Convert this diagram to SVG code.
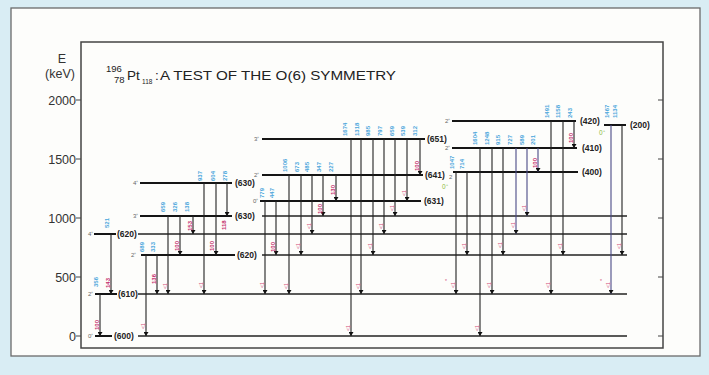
<svg xmlns="http://www.w3.org/2000/svg" width="709" height="375" viewBox="0 0 709 375">
<defs>
<marker id="ah" viewBox="0 0 8 10" refX="8" refY="5" markerWidth="6" markerHeight="5" orient="auto" markerUnits="userSpaceOnUse">
<path d="M0,0 L8,5 L0,10 z" fill="#111"/>
</marker>
<style>
.lvl{stroke:#151515;stroke-width:2;fill:none}
.ext{stroke:#222;stroke-width:1.3;fill:none}
.tr line{stroke:#222;stroke-width:1.1;marker-end:url(#ah)}
.tr line.p{stroke:#4a4a86}
.lb{font-family:"Liberation Sans",Arial,sans-serif;font-size:8.5px;font-weight:bold;fill:#222}
.sp{font-family:"Liberation Sans",Arial,sans-serif;font-size:6px;fill:#666}
.gr{font-family:"Liberation Sans",Arial,sans-serif;font-size:6.5px;fill:#8dbb3c}
.e{font-family:"Liberation Sans",Arial,sans-serif;font-size:6px;font-weight:bold;fill:#4aa6dc}
.b{font-family:"Liberation Sans",Arial,sans-serif;font-size:6px;font-weight:bold;fill:#c4306c}
.m{font-family:"Liberation Sans",Arial,sans-serif;font-size:5px;fill:#d04a78}
.ax{font-family:"Liberation Sans",Arial,sans-serif;font-size:12.5px;fill:#333}
.t{font-family:"Liberation Sans",Arial,sans-serif;fill:#222}
.tk{stroke:#444;stroke-width:1.2}
</style>
</defs>
<rect x="0" y="0" width="709" height="375" fill="#d9edf4"/>
<rect x="11" y="8" width="689" height="348" fill="#fdfdfb" stroke="#6a6a6a" stroke-width="1.3"/>
<rect x="81" y="42" width="582" height="306" fill="none" stroke="#444" stroke-width="1.5"/>

<g id="axis">
<text class="ax" x="62" y="63" text-anchor="middle">E</text>
<text class="ax" x="60" y="78" text-anchor="middle">(keV)</text>
<text class="ax" x="76" y="104.5" text-anchor="end">2000</text>
<text class="ax" x="76" y="163.5" text-anchor="end">1500</text>
<text class="ax" x="76" y="222.5" text-anchor="end">1000</text>
<text class="ax" x="76" y="281.5" text-anchor="end">500</text>
<text class="ax" x="76" y="340.5" text-anchor="end">0</text>
<path class="tk" d="M76,100H81M76,159H81M76,218H81M76,277H81M76,336H81M658,100H663M658,159H663M658,218H663M658,277H663M658,336H663"/>
</g>

<g id="title">
<text class="t" x="106" y="72" font-size="9.5">196</text>
<text class="t" x="114" y="83" font-size="9.5">78</text>
<text class="t" x="127" y="80" font-size="13.5">Pt</text>
<text class="t" x="142" y="84" font-size="6.5">118</text>
<text class="t" x="155" y="80" font-size="13.5">:</text>
<text class="t" x="160" y="80" font-size="13.5" textLength="236" lengthAdjust="spacingAndGlyphs">A TEST OF THE O(6) SYMMETRY</text>
</g>

<g id="lvl600">
<text class="sp" x="88" y="338">0⁺</text>
<path class="lvl" d="M95,336H112"/>
<text class="lb" x="114" y="339">(600)</text>
<path class="ext" d="M138,336H627"/>
</g>
<g id="lvl610">
<text class="sp" x="88" y="296">2⁺</text>
<path class="lvl" d="M95,294H117"/>
<text class="lb" x="118" y="297">(610)</text>
<path class="ext" d="M138,294H627"/>
</g>
<g id="lvl620-4">
<text class="sp" x="88" y="236">4⁺</text>
<path class="lvl" d="M94,234H116"/>
<text class="lb" x="117" y="237">(620)</text>
<path class="ext" d="M138,234H627"/>
</g>
<g id="lvl620-2">
<text class="sp" x="131" y="257">2⁺</text>
<path class="lvl" d="M141,255H235"/>
<text class="lb" x="237" y="258">(620)</text>
<path class="ext" d="M262,255H627"/>
</g>
<g id="lvl630-3">
<text class="sp" x="133" y="218">3⁺</text>
<path class="lvl" d="M140,216H232"/>
<text class="lb" x="235" y="219">(630)</text>
<path class="ext" d="M262,216H627"/>
</g>
<g id="lvl630-4">
<text class="sp" x="133" y="185">4⁺</text>
<path class="lvl" d="M140,183H232"/>
<text class="lb" x="235" y="186">(630)</text>
</g>
<g id="lvl631">
<text class="sp" x="253" y="203">0⁺</text>
<path class="lvl" d="M260,201H421"/>
<text class="lb" x="424" y="204">(631)</text>
</g>
<g id="lvl641">
<text class="sp" x="254" y="177">2⁺</text>
<path class="lvl" d="M262,175H423"/>
<text class="lb" x="425" y="178">(641)</text>
</g>
<g id="lvl651">
<text class="sp" x="254" y="141">3⁺</text>
<path class="lvl" d="M262,139H425"/>
<text class="lb" x="427" y="142">(651)</text>
</g>
<g id="lvl400">
<text class="sp" x="449" y="179">2</text>
<text class="gr" x="442" y="189">0⁺</text>
<path class="lvl" d="M453,172H578"/>
<text class="lb" x="582" y="175">(400)</text>
</g>
<g id="lvl410">
<text class="sp" x="445" y="150">2⁺</text>
<path class="lvl" d="M452,148H577"/>
<text class="lb" x="582" y="151">(410)</text>
</g>
<g id="lvl420">
<text class="sp" x="445" y="123">2⁺</text>
<path class="lvl" d="M452,121H576"/>
<text class="lb" x="580" y="124">(420)</text>
</g>
<g id="lvl200">
<text class="gr" x="599" y="135">0⁺</text>
<path class="lvl" d="M604,125H626"/>
<text class="lb" x="630" y="128">(200)</text>
</g>

<g id="connectors">
<g class="tr">
<line x1="100" y1="294" x2="100" y2="336"/>
<line x1="111" y1="234" x2="111" y2="294"/>
<line x1="146" y1="255" x2="146" y2="336"/>
<line x1="157" y1="255" x2="157" y2="294"/>
<line x1="168" y1="216" x2="168" y2="294"/>
<line x1="180" y1="216" x2="180" y2="255"/>
<line x1="193" y1="216" x2="193" y2="234"/>
<line x1="204" y1="183" x2="204" y2="294"/>
<line x1="216" y1="183" x2="216" y2="255"/>
<line x1="227" y1="183" x2="227" y2="216"/>
<line x1="265" y1="201" x2="265" y2="294"/>
<line x1="276" y1="201" x2="276" y2="255"/>
<line x1="289" y1="175" x2="289" y2="294"/>
<line x1="301" y1="175" x2="301" y2="255"/>
<line x1="312" y1="175" x2="312" y2="234"/>
<line x1="323" y1="175" x2="323" y2="216"/>
<line x1="336" y1="175" x2="336" y2="201"/>
<line x1="351" y1="139" x2="351" y2="336"/>
<line x1="361" y1="139" x2="361" y2="294"/>
<line x1="373" y1="139" x2="373" y2="255"/>
<line x1="384" y1="139" x2="384" y2="234"/>
<line x1="395" y1="139" x2="395" y2="216"/>
<line x1="407" y1="139" x2="407" y2="201"/>
<line x1="420" y1="139" x2="420" y2="175"/>
<line x1="456" y1="172" x2="456" y2="294"/>
<line x1="467" y1="172" x2="467" y2="255"/>
<line x1="480" y1="148" x2="480" y2="336"/>
<line x1="492" y1="148" x2="492" y2="294"/>
<line x1="503" y1="148" x2="503" y2="255"/>
<line class="p" x1="516" y1="148" x2="516" y2="234"/>
<line class="p" x1="527" y1="148" x2="527" y2="216"/>
<line class="p" x1="538" y1="148" x2="538" y2="172"/>
<line x1="551" y1="121" x2="551" y2="294"/>
<line x1="563" y1="121" x2="563" y2="255"/>
<line x1="574" y1="121" x2="574" y2="148"/>
<line class="p" x1="611" y1="125" x2="611" y2="294"/>
<line x1="622" y1="125" x2="622" y2="255"/>
</g>
<g id="energies">
<text class="e" transform="rotate(-90 98 287)" x="98" y="287">356</text>
<text class="e" transform="rotate(-90 109 228)" x="109" y="228">521</text>
<text class="e" transform="rotate(-90 144 252)" x="144" y="252">689</text>
<text class="e" transform="rotate(-90 155 252)" x="155" y="252">333</text>
<text class="e" transform="rotate(-90 165 212)" x="165" y="212">659</text>
<text class="e" transform="rotate(-90 177 212)" x="177" y="212">326</text>
<text class="e" transform="rotate(-90 189 212)" x="189" y="212">138</text>
<text class="e" transform="rotate(-90 202 181)" x="202" y="181">937</text>
<text class="e" transform="rotate(-90 215 181)" x="215" y="181">604</text>
<text class="e" transform="rotate(-90 227 181)" x="227" y="181">278</text>
<text class="e" transform="rotate(-90 264 198)" x="264" y="198">779</text>
<text class="e" transform="rotate(-90 274 198)" x="274" y="198">447</text>
<text class="e" transform="rotate(-90 287 172)" x="287" y="172">1006</text>
<text class="e" transform="rotate(-90 299 172)" x="299" y="172">673</text>
<text class="e" transform="rotate(-90 309 172)" x="309" y="172">485</text>
<text class="e" transform="rotate(-90 321 172)" x="321" y="172">347</text>
<text class="e" transform="rotate(-90 333 172)" x="333" y="172">227</text>
<text class="e" transform="rotate(-90 347 136)" x="347" y="136">1674</text>
<text class="e" transform="rotate(-90 359 136)" x="359" y="136">1318</text>
<text class="e" transform="rotate(-90 370 136)" x="370" y="136">985</text>
<text class="e" transform="rotate(-90 382 136)" x="382" y="136">797</text>
<text class="e" transform="rotate(-90 394 136)" x="394" y="136">659</text>
<text class="e" transform="rotate(-90 405 136)" x="405" y="136">539</text>
<text class="e" transform="rotate(-90 417 136)" x="417" y="136">312</text>
<text class="e" transform="rotate(-90 454 169)" x="454" y="169">1047</text>
<text class="e" transform="rotate(-90 464 169)" x="464" y="169">714</text>
<text class="e" transform="rotate(-90 477 145)" x="477" y="145">1604</text>
<text class="e" transform="rotate(-90 489 145)" x="489" y="145">1248</text>
<text class="e" transform="rotate(-90 500 145)" x="500" y="145">915</text>
<text class="e" transform="rotate(-90 512 145)" x="512" y="145">727</text>
<text class="e" transform="rotate(-90 524 145)" x="524" y="145">589</text>
<text class="e" transform="rotate(-90 535 145)" x="535" y="145">201</text>
<text class="e" transform="rotate(-90 549 118)" x="549" y="118">1491</text>
<text class="e" transform="rotate(-90 560 118)" x="560" y="118">1158</text>
<text class="e" transform="rotate(-90 572 118)" x="572" y="118">243</text>
<text class="e" transform="rotate(-90 609 118)" x="609" y="118">1467</text>
<text class="e" transform="rotate(-90 617 118)" x="617" y="118">1134</text>
</g>
<g id="be2">
<text class="b" transform="rotate(-90 99 330)" x="99" y="330">100</text>
<text class="b" transform="rotate(-90 110 288)" x="110" y="288">143</text>
<text class="b" transform="rotate(-90 156 284)" x="156" y="284">136</text>
<text class="b" transform="rotate(-90 179 251)" x="179" y="251">100</text>
<text class="b" transform="rotate(-90 192 231)" x="192" y="231">153</text>
<text class="b" transform="rotate(-90 214 251)" x="214" y="251">100</text>
<text class="b" transform="rotate(-90 226 230)" x="226" y="230">118</text>
<text class="b" transform="rotate(-90 275 252)" x="275" y="252">100</text>
<text class="b" transform="rotate(-90 322 214)" x="322" y="214">100</text>
<text class="b" transform="rotate(-90 335 195)" x="335" y="195">130</text>
<text class="b" transform="rotate(-90 419 171)" x="419" y="171">100</text>
<text class="b" transform="rotate(-90 537 168)" x="537" y="168">100</text>
<text class="b" transform="rotate(-90 573 143)" x="573" y="143">100</text>
</g>
<g id="marks">
<text class="m" transform="rotate(-90 145 329)" x="145" y="329">&lt;1</text>
<text class="m" transform="rotate(-90 167 289)" x="167" y="289">&lt;1</text>
<text class="m" transform="rotate(-90 203 288)" x="203" y="288">&lt;1</text>
<text class="m" transform="rotate(-90 264 288)" x="264" y="288">&lt;1</text>
<text class="m" transform="rotate(-90 288 289)" x="288" y="289">&lt;1</text>
<text class="m" transform="rotate(-90 300 249)" x="300" y="249">&lt;1</text>
<text class="m" transform="rotate(-90 311 229)" x="311" y="229">&lt;1</text>
<text class="m" transform="rotate(-90 350 331)" x="350" y="331">&lt;1</text>
<text class="m" transform="rotate(-90 360 289)" x="360" y="289">&lt;1</text>
<text class="m" transform="rotate(-90 372 249)" x="372" y="249">&lt;1</text>
<text class="m" transform="rotate(-90 383 229)" x="383" y="229">&lt;1</text>
<text class="m" transform="rotate(-90 394 211)" x="394" y="211">&lt;1</text>
<text class="m" transform="rotate(-90 406 196)" x="406" y="196">&lt;1</text>
<text class="m" x="445" y="283">*</text>
<text class="m" transform="rotate(-90 455 288)" x="455" y="288">&lt;1</text>
<text class="m" transform="rotate(-90 466 249)" x="466" y="249">&lt;1</text>
<text class="m" transform="rotate(-90 479 331)" x="479" y="331">&lt;1</text>
<text class="m" transform="rotate(-90 491 288)" x="491" y="288">&lt;1</text>
<text class="m" transform="rotate(-90 502 248)" x="502" y="248">&lt;1</text>
<text class="m" transform="rotate(-90 515 228)" x="515" y="228">&lt;1</text>
<text class="m" transform="rotate(-90 526 211)" x="526" y="211">&lt;1</text>
<text class="m" transform="rotate(-90 550 288)" x="550" y="288">&lt;1</text>
<text class="m" transform="rotate(-90 562 249)" x="562" y="249">&lt;1</text>
<text class="m" x="600" y="283">*</text>
<text class="m" transform="rotate(-90 610 288)" x="610" y="288">&lt;1</text>
<text class="m" transform="rotate(-90 621 249)" x="621" y="249">&lt;1</text>
</g>
</g>
</svg>
